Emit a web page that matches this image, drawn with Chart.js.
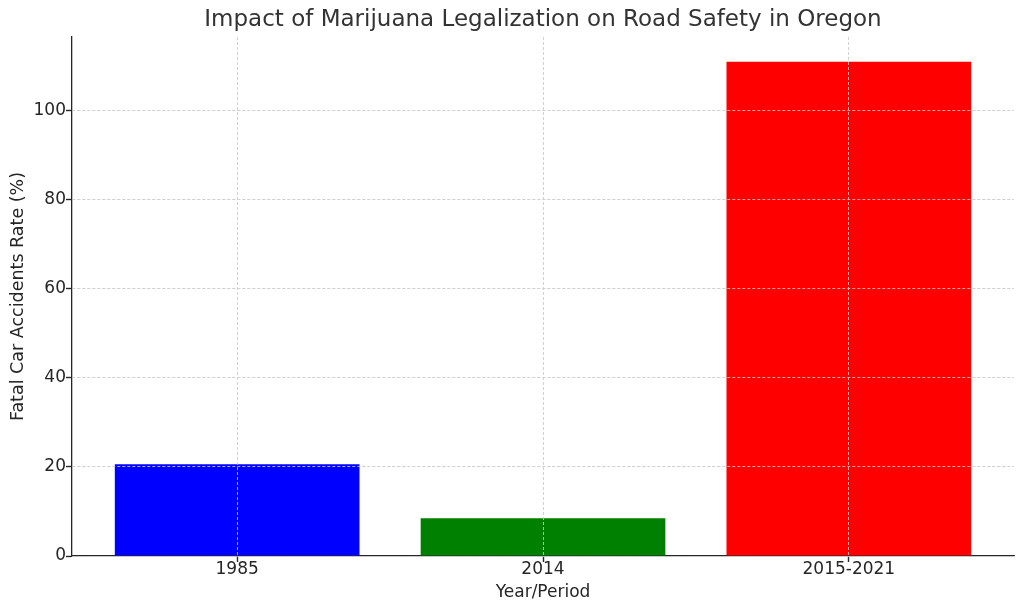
<!DOCTYPE html>
<html>
<head>
<meta charset="utf-8">
<title>Impact of Marijuana Legalization on Road Safety in Oregon</title>
<script src="https://cdn.jsdelivr.net/npm/chart.js@4.4.1/dist/chart.umd.min.js"></script>
<style>
  html, body { margin: 0; padding: 0; background: #fff; }
  #wrap { width: 1024px; height: 611px; }
</style>
</head>
<body>
<div id="wrap"><canvas id="chart" width="1024" height="611"></canvas></div>
<script>
const categories = ["1985", "2014", "2015-2021"];
const rates = [20.6, 8.5, 111];
const barColors = ["#0000ff", "#008000", "#ff0000"];
const yTicks = [0, 20, 40, 60, 80, 100];
const yMax = 116.55;

const FONT = "'DejaVu Sans', sans-serif";
const TEXT = "#262626";

// matplotlib draws the grid over the bars, so repaint it after the datasets
const gridOnTop = {
  id: "gridOnTop",
  afterDatasetsDraw(chart) {
    chart.scales.x.drawGrid(chart.chartArea);
    chart.scales.y.drawGrid(chart.chartArea);
  }
};

const gridOpts = {
  color: "#cfcfcf",
  lineWidth: 0.8,
  offset: false,
  tickColor: TEXT,
  tickWidth: 1.2,
  tickLength: 6,
  tickBorderDash: []
};

const borderOpts = { display: true, color: TEXT, width: 1.3, dash: [3, 2] };

const ctx = document.getElementById("chart").getContext("2d");
new Chart(ctx, {
  type: "bar",
  data: {
    datasets: [{
      data: rates.map((v, i) => ({ x: i, y: v })),
      backgroundColor: barColors,
      borderWidth: 0,
      barPercentage: 1,
      categoryPercentage: 0.8
    }]
  },
  options: {
    responsive: false,
    animation: false,
    devicePixelRatio: 1,
    layout: { padding: { left: 0, right: 10, top: 0, bottom: 0 } },
    plugins: {
      legend: { display: false },
      tooltip: { enabled: false },
      title: {
        display: true,
        text: "Impact of Marijuana Legalization on Road Safety in Oregon",
        fullSize: false,
        color: "#333",
        font: { family: FONT, size: 23, weight: "normal" },
        padding: { top: 6, bottom: 3.4 }
      }
    },
    scales: {
      x: {
        type: "linear",
        offset: false,
        min: -0.54,
        max: 2.54,
        afterBuildTicks: axis => { axis.ticks = categories.map((c, i) => ({ value: i })); },
        afterFit: axis => { axis.height = 55; },
        ticks: {
          callback: v => categories[v],
          color: TEXT,
          padding: -3,
          maxRotation: 0,
          font: { family: FONT, size: 17 }
        },
        grid: gridOpts,
        border: borderOpts,
        title: {
          display: true,
          text: "Year/Period",
          color: TEXT,
          font: { family: FONT, size: 17 },
          padding: { top: 0, bottom: 8 }
        }
      },
      y: {
        min: 0,
        max: yMax,
        afterBuildTicks: axis => { axis.ticks = yTicks.map(v => ({ value: v })); },
        afterFit: axis => { axis.width = 72; },
        ticks: {
          color: TEXT,
          padding: 0,
          font: { family: FONT, size: 17 }
        },
        grid: gridOpts,
        border: borderOpts,
        title: {
          display: true,
          text: "Fatal Car Accidents Rate (%)",
          color: TEXT,
          font: { family: FONT, size: 17.5 },
          padding: { top: 8, bottom: 4 }
        }
      }
    }
  },
  plugins: [gridOnTop]
});
</script>
</body>
</html>
